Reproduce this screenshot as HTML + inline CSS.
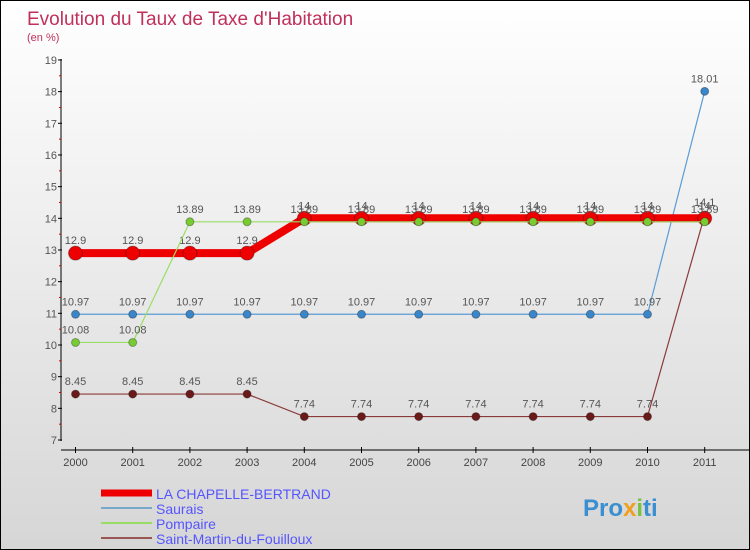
<!DOCTYPE html>
<html><head><meta charset="utf-8"><style>
body{margin:0}
#c{width:748px;height:548px;border:1px solid #000;background:linear-gradient(#fff,#d6d6d6);position:relative;font-family:"Liberation Sans",sans-serif;overflow:hidden}
</style></head><body>
<div id="c">
<svg id="s" width="748" height="548" xmlns="http://www.w3.org/2000/svg">
<text x="26" y="24" font-size="19" fill="#c0305a">Evolution du Taux de Taxe d'Habitation</text>
<text x="26" y="40" font-size="11" fill="#c0305a">(en %)</text>
</svg>
</div>
<script>
const years=[2000,2001,2002,2003,2004,2005,2006,2007,2008,2009,2010,2011];
const yTicks=[7,8,9,10,11,12,13,14,15,16,17,18,19];
const names=["LA CHAPELLE-BERTRAND","Saurais","Pompaire","Saint-Martin-du-Fouilloux"];
const chapelle=[12.9,12.9,12.9,12.9,14,14,14,14,14,14,14,14];
const saurais=[10.97,10.97,10.97,10.97,10.97,10.97,10.97,10.97,10.97,10.97,10.97,18.01];
const pompaire=[10.08,10.08,13.89,13.89,13.89,13.89,13.89,13.89,13.89,13.89,13.89,13.89];
const stmartin=[8.45,8.45,8.45,8.45,7.74,7.74,7.74,7.74,7.74,7.74,7.74,14.1];
const NS="http://www.w3.org/2000/svg";
const svg=document.getElementById('s');
const X=i=>74.5+i*57.2;
const Y=v=>439-(v-7)*31.67;
function el(t,a,p){const e=document.createElementNS(NS,t);for(const k in a)e.setAttribute(k,a[k]);(p||svg).appendChild(e);return e;}
// axes
let ax=el('line',{x1:60,y1:58,x2:60,y2:440,stroke:'#000'});


yTicks.forEach(v=>{
  el('line',{x1:57,y1:Y(v),x2:61,y2:Y(v),stroke:'#000'});
  if(v<19) el('line',{x1:58,y1:Y(v+0.5),x2:60,y2:Y(v+0.5),stroke:'#d00'});
  const t=el('text',{x:56,y:Y(v)+4,'font-size':11,fill:'#555','text-anchor':'end'});
  t.textContent=v;
  
  
});
let xa=el('line',{x1:60,y1:449,x2:748,y2:449,stroke:'#000'});


years.forEach((y,i)=>{
  el('line',{x1:X(i),y1:446,x2:X(i),y2:452,stroke:'#000'});
  const t=el('text',{x:X(i),y:465,'font-size':11,fill:'#444','text-anchor':'middle'});
  t.textContent=y;
  
  
});
function series(data,color,w,r,dot,name){
  const g=el('g',{});
  
  
  el('polyline',{points:data.map((v,i)=>X(i)+','+Y(v)).join(' '),fill:'none',stroke:color,'stroke-width':w},g);
  data.forEach((v,i)=>{
    const c=el('circle',{cx:X(i),cy:Y(v),r:r,fill:dot,stroke:'rgba(0,0,0,0.3)','stroke-width':1},g);
    
    
    const t=el('text',{x:X(i),y:Y(v)-9,'font-size':11,fill:'#555','text-anchor':'middle'},g);
    t.textContent=String(v).replace(/\.(\d)$/,'.$1');
    
    
  });
}
series(stmartin,'#8b3a3a',1.2,4,'#6b1a1a','stmartin-series');
series(saurais,'#5b9bd5',1.2,4,'#3a86c8','saurais-series');
series(chapelle,'#ee0000',8,7,'#ee0000','chapelle-series');
series(pompaire,'#99dd66',1.2,4,'#77cc33','pompaire-series');
// legend
const lc=['#ee0000','#79a8c8','#99dd66','#9a5555'],lw=[7,2,2,2];
names.forEach((n,i)=>{
  const y=493+i*15;
  const g=el('g',{});
  
  
  el('line',{x1:100,y1:y-1,x2:151,y2:y-1,stroke:lc[i],'stroke-width':lw[i]},g);
  const t=el('text',{x:155,y:y+5,'font-size':14,fill:'#5555ff'},g);
  t.textContent=n;
});
// logo
const lg=el('text',{x:582,y:515,'font-size':24,'font-weight':'bold',fill:'#3a8fd0'});


lg.innerHTML='Pro<tspan fill="#f0a020">x</tspan><tspan fill="#7ac143">i</tspan>ti';
</script>
</body></html>
